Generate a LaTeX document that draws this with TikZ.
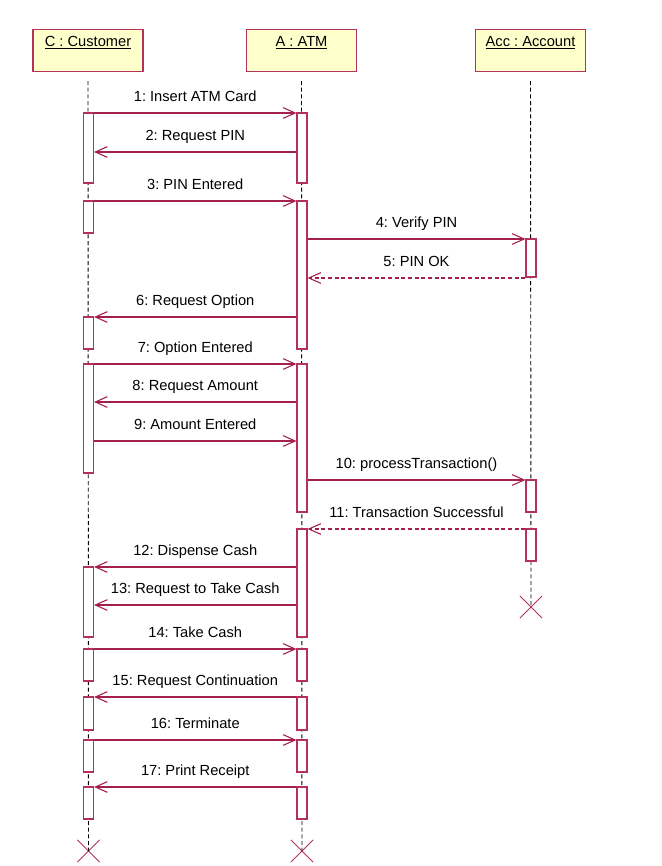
\documentclass[tikz,border=0pt]{standalone}
\usepackage{fontspec}
\setmainfont{Liberation Sans}
\usepackage{xcolor}
\usetikzlibrary{arrows.meta,shapes.misc}
\definecolor{umlred}{RGB}{165,30,80}
\definecolor{boxred}{RGB}{180,50,90}
\definecolor{headfill}{RGB}{255,255,204}
\frenchspacing

% activation bar: name, lifeline x, top y, bottom y
\newcommand{\actbar}[4]{\node[actbox, minimum height={(#4-#3)*0.75pt}] (#1) at (#2,{(#3+#4)/2}) {};}

\begin{document}
\begin{tikzpicture}[x=0.75pt, y=-0.75pt,
    font=\fontsize{11}{13}\selectfont,
    head/.style={draw=boxred, fill=headfill, line width=0.8pt, anchor=north,
        minimum width=82.5pt, inner sep=0pt, text height=12.75pt, text depth=18.75pt},
    actbox/.style={draw=boxred, fill=white, line width=0.8pt, minimum width=7.5pt, inner sep=0pt},
    lifeline/.style={black, line width=0.7pt, dash pattern=on 3pt off 2pt, shorten <=6.75pt},
    endmark/.style={cross out, draw=boxred, line width=0.7pt, minimum size=16pt, inner sep=0pt},
    msg/.style={umlred, line width=0.8pt, -{Straight Barb[length=9pt,width=8pt]}},
    reply/.style={msg, dash pattern=on 3pt off 2pt},
    lbl/.style={midway, above=8pt, inner sep=0pt, text depth=0pt, text=black}]
    \useasboundingbox (0,0) rectangle (661,866);

    % Objects
    \node[head] (cust) at (88,29) {\underline{C : Customer}};
    \node[head] (atm) at (301.5,29) {\underline{A : ATM}};
    \node[head] (acc) at (530.5,29) {\underline{Acc : Account}};

    % Destruction marks
    \node[endmark] (custend) at (88.5,851) {};
    \node[endmark] (atmend) at (302,851) {};
    \node[endmark] (accend) at (531,607) {};

    % Lifelines
    \draw[lifeline] (cust.south) -- (custend.center);
    \draw[lifeline] (atm.south) -- (atmend.center);
    \draw[lifeline] (acc.south) -- (accend.center);

    % Activations of the customer
    \actbar{c1}{88.5}{113}{183}
    \actbar{c2}{88.5}{201}{233}
    \actbar{c3}{88.5}{317}{349}
    \actbar{c4}{88.5}{364}{473}
    \actbar{c5}{88.5}{567}{637}
    \actbar{c6}{88.5}{649}{681}
    \actbar{c7}{88.5}{697}{730}
    \actbar{c8}{88.5}{740}{772}
    \actbar{c9}{88.5}{787}{819}

    % Activations of the ATM
    \actbar{a1}{302}{113}{183}
    \actbar{a2}{302}{201}{349}
    \actbar{a3}{302}{364}{512}
    \actbar{a4}{302}{529}{637}
    \actbar{a5}{302}{649}{681}
    \actbar{a6}{302}{697}{730}
    \actbar{a7}{302}{740}{772}
    \actbar{a8}{302}{787}{819}

    % Activations of the account
    \actbar{b1}{531}{239}{277}
    \actbar{b2}{531}{480}{512}
    \actbar{b3}{531}{529}{561}

    % Messages
    \draw[msg] (c1.east |- 0,113) -- (a1.west |- 0,113) node[lbl] {1: Insert ATM Card};
    \draw[msg] (a1.west |- 0,152) -- (c1.east |- 0,152) node[lbl] {2: Request PIN};
    \draw[msg] (c2.east |- 0,201) -- (a2.west |- 0,201) node[lbl] {3: PIN Entered};
    \draw[msg] (a2.east |- 0,239) -- (b1.west |- 0,239) node[lbl] {4: Verify PIN};
    \draw[reply] (b1.west |- 0,278) -- (a2.east |- 0,278) node[lbl] {5: PIN OK};
    \draw[msg] (a2.west |- 0,317) -- (c3.east |- 0,317) node[lbl] {6: Request Option};
    \draw[msg] (c4.east |- 0,364) -- (a3.west |- 0,364) node[lbl] {7: Option Entered};
    \draw[msg] (a3.west |- 0,402) -- (c4.east |- 0,402) node[lbl] {8: Request Amount};
    \draw[msg] (c4.east |- 0,441) -- (a3.west |- 0,441) node[lbl] {9: Amount Entered};
    \draw[msg] (a3.east |- 0,480) -- (b2.west |- 0,480) node[lbl] {10: processTransaction()};
    \draw[reply] (b3.west |- 0,529) -- (a4.east |- 0,529) node[lbl] {11: Transaction Successful};
    \draw[msg] (a4.west |- 0,567) -- (c5.east |- 0,567) node[lbl] {12: Dispense Cash};
    \draw[msg] (a4.west |- 0,605) -- (c5.east |- 0,605) node[lbl] {13: Request to Take Cash};
    \draw[msg] (c6.east |- 0,649) -- (a5.west |- 0,649) node[lbl] {14: Take Cash};
    \draw[msg] (a6.west |- 0,697) -- (c7.east |- 0,697) node[lbl] {15: Request Continuation};
    \draw[msg] (c8.east |- 0,740) -- (a7.west |- 0,740) node[lbl] {16: Terminate};
    \draw[msg] (a8.west |- 0,787) -- (c9.east |- 0,787) node[lbl] {17: Print Receipt};
\end{tikzpicture}
\end{document}
